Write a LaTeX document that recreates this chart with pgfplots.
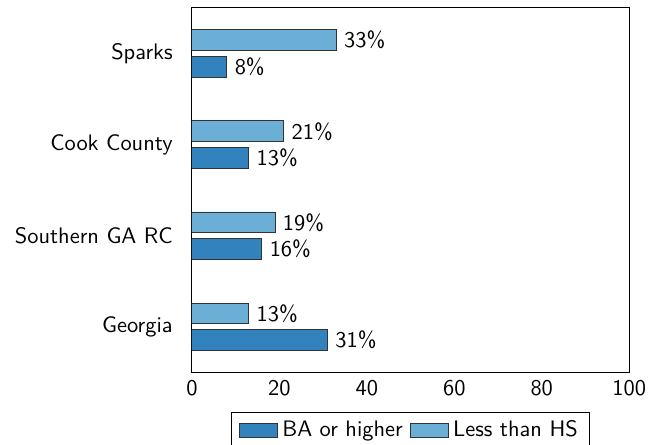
\documentclass[border=0pt]{standalone}
\usepackage{pgfplots}
\pgfplotsset{compat=1.18}
\usetikzlibrary{calc}
\definecolor{darkblue}{HTML}{3182BD}
\definecolor{lightblue}{HTML}{6BAED6}
\begin{document}
\sffamily
\begin{tikzpicture}
\begin{axis}[
    scale only axis,
    width=195pt, height=162.5pt,
    xbar,
    bar width=9.3pt,
    xmin=0, xmax=100,
    ymin=-0.5, ymax=3.5,
    xtick={0,20,40,60,80,100},
    ytick={0,1,2,3},
    yticklabels={Georgia,Southern GA RC,Cook County,Sparks},
    major tick length=0pt,
    ticklabel style={font=\sffamily},
    yticklabel style={xshift=-5pt},
    /pgf/number format/assume math mode=true,
    nodes near coords={\pgfmathprintnumber{\pgfplotspointmeta}\%},
    nodes near coords style={font=\sffamily, /pgf/number format/assume math mode=true},
    legend style={at={(0.5,0)}, anchor=north, yshift=-17.5pt, legend columns=2, font=\sffamily,
        /tikz/every even column/.append style={column sep=1pt}},
    legend image code/.code={\draw[#1] (0cm,-0.1cm) rectangle (0.6cm,0.12cm);},
]
\addplot[fill=darkblue, draw=black!80, bar shift=-5.9pt] coordinates {
    (31,0) (16,1) (13,2) (8,3)
};
\addlegendentry{BA or higher}
\addplot[fill=lightblue, draw=black!80, bar shift=5.9pt] coordinates {
    (13,0) (19,1) (21,2) (33,3)
};
\addlegendentry{Less than HS}
\end{axis}
% crop like the reference: legend cut just under its text
\pgfresetboundingbox
\path let \p1=(current axis.outer west), \p2=(current axis.outer east),
          \p3=(current axis.north), \p4=(current axis.south) in
    [use as bounding box] (\x1-3.3pt,\y3+3.5pt) rectangle (\x2+3.8pt,\y4-32pt);
\end{tikzpicture}
\end{document}
